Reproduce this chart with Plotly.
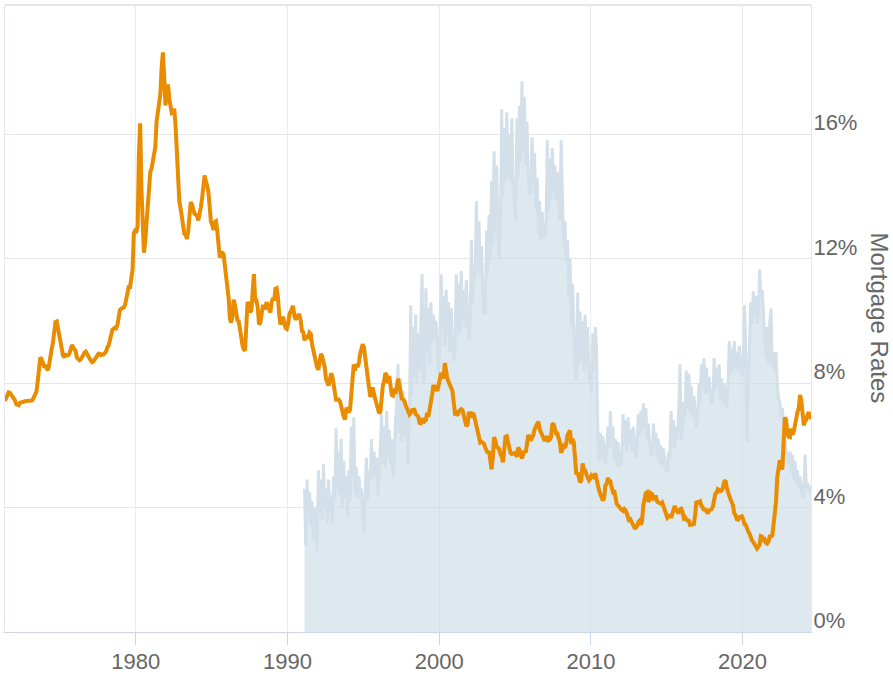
import pandas as pd
import plotly.graph_objects as go

# 30-year fixed mortgage rate (%), monthly, May 1971 - Jul 2024
rates_1970s = [
    7.43, 7.53, 7.60, 7.70, 7.69, 7.63, 7.55, 7.48,
    7.44, 7.32, 7.29, 7.29, 7.37, 7.37, 7.40, 7.40, 7.42, 7.42, 7.43, 7.44,
    7.44, 7.44, 7.46, 7.54, 7.65, 7.73, 8.05, 8.50, 8.82, 8.77, 8.58, 8.54,
    8.54, 8.46, 8.41, 8.58, 8.97, 9.09, 9.28, 9.59, 9.96, 9.98, 9.79, 9.62,
    9.43, 9.10, 8.89, 8.82, 8.91, 8.89, 8.89, 8.94, 9.13, 9.22, 9.15, 9.10,
    9.02, 8.81, 8.76, 8.73, 8.76, 8.85, 8.93, 8.98, 9.01, 8.91, 8.81, 8.79,
    8.72, 8.67, 8.69, 8.75, 8.82, 8.86, 8.94, 8.94, 8.90, 8.92, 8.92, 8.96,
    9.01, 9.15, 9.20, 9.36, 9.57, 9.71, 9.74, 9.78, 9.76, 9.86, 10.11, 10.35,
    10.39, 10.41, 10.43, 10.50, 10.69, 11.04, 11.09, 11.09, 11.30, 11.64, 12.83, 12.90,
]
rates_1980s = [
    12.88, 13.04, 15.28, 16.35, 14.26, 12.71, 12.19, 12.56, 13.20, 13.79, 14.21, 14.79,
    14.90, 15.13, 15.40, 15.58, 16.40, 16.70, 16.83, 17.29, 18.16, 18.63, 17.83, 16.92,
    17.40, 17.60, 17.16, 16.89, 16.68, 16.70, 16.82, 16.27, 15.43, 14.61, 13.83, 13.62,
    13.25, 13.04, 12.80, 12.78, 12.63, 12.87, 13.42, 13.81, 13.73, 13.54, 13.44, 13.42,
    13.37, 13.23, 13.39, 13.65, 13.94, 14.42, 14.67, 14.47, 14.35, 14.13, 13.64, 13.18,
    13.08, 12.92, 13.17, 13.20, 12.91, 12.22, 12.03, 12.19, 12.19, 12.14, 11.78, 11.26,
    10.88, 10.71, 10.08, 9.94, 10.14, 10.68, 10.51, 10.20, 10.01, 9.98, 9.70, 9.32,
    9.20, 9.08, 9.04, 9.83, 10.60, 10.54, 10.28, 10.33, 10.89, 11.50, 10.65, 10.65,
    10.43, 9.89, 9.93, 10.20, 10.46, 10.46, 10.43, 10.60, 10.48, 10.30, 10.27, 10.61,
    10.73, 10.65, 11.03, 11.05, 10.77, 10.20, 9.88, 9.99, 10.13, 9.95, 9.77, 9.74,
]
rates_1990s = [
    9.90, 10.20, 10.27, 10.37, 10.48, 10.16, 10.04, 10.10, 10.18, 10.18, 10.01, 9.67,
    9.64, 9.37, 9.50, 9.49, 9.47, 9.62, 9.58, 9.24, 9.01, 8.86, 8.71, 8.50,
    8.43, 8.76, 8.94, 8.85, 8.67, 8.51, 8.13, 7.98, 7.92, 8.09, 8.31, 8.22,
    7.92, 7.71, 7.46, 7.46, 7.47, 7.42, 7.21, 7.11, 6.92, 6.83, 7.16, 7.17,
    7.06, 7.15, 7.68, 8.32, 8.60, 8.40, 8.61, 8.51, 8.64, 8.93, 9.17, 9.25,
    9.15, 8.83, 8.46, 8.32, 7.96, 7.57, 7.61, 7.86, 7.64, 7.48, 7.38, 7.20,
    7.03, 7.08, 7.62, 7.93, 8.07, 8.32, 8.25, 8.00, 8.23, 7.92, 7.62, 7.60,
    7.82, 7.65, 7.90, 8.14, 7.94, 7.69, 7.50, 7.48, 7.43, 7.29, 7.21, 7.10,
    6.99, 7.04, 7.13, 7.14, 7.14, 7.00, 6.95, 6.92, 6.72, 6.71, 6.87, 6.72,
    6.79, 6.81, 7.04, 6.92, 7.15, 7.55, 7.63, 7.94, 7.82, 7.85, 7.74, 7.91,
]
rates_2000s = [
    8.21, 8.33, 8.24, 8.15, 8.64, 8.29, 8.15, 8.03, 7.91, 7.80, 7.75, 7.38,
    7.03, 7.05, 6.95, 7.08, 7.15, 7.16, 7.13, 6.95, 6.82, 6.62, 6.66, 7.07,
    7.00, 6.89, 7.01, 6.99, 6.81, 6.65, 6.49, 6.29, 6.09, 6.11, 6.07, 6.05,
    5.92, 5.84, 5.75, 5.81, 5.48, 5.23, 5.63, 6.26, 6.15, 5.95, 5.93, 5.88,
    5.71, 5.64, 5.45, 5.83, 6.27, 6.29, 6.06, 5.87, 5.75, 5.72, 5.73, 5.75,
    5.71, 5.63, 5.93, 5.86, 5.72, 5.58, 5.70, 5.82, 5.77, 6.07, 6.33, 6.27,
    6.15, 6.25, 6.32, 6.51, 6.60, 6.68, 6.76, 6.52, 6.40, 6.36, 6.24, 6.14,
    6.22, 6.29, 6.16, 6.18, 6.26, 6.66, 6.70, 6.57, 6.38, 6.38, 6.21, 6.10,
    5.76, 5.92, 5.97, 5.92, 6.04, 6.32, 6.43, 6.48, 6.04, 6.20, 6.09, 5.33,
    5.06, 5.13, 5.00, 4.81, 4.86, 5.42, 5.22, 5.19, 5.06, 4.95, 4.88, 4.93,
]
rates_2010s = [
    5.03, 4.99, 4.97, 5.10, 4.89, 4.74, 4.56, 4.43, 4.35, 4.23, 4.30, 4.71,
    4.76, 4.95, 4.84, 4.84, 4.64, 4.51, 4.55, 4.27, 4.11, 4.07, 3.99, 3.96,
    3.92, 3.89, 3.95, 3.91, 3.80, 3.68, 3.55, 3.60, 3.50, 3.38, 3.35, 3.35,
    3.41, 3.53, 3.57, 3.45, 3.54, 4.07, 4.37, 4.46, 4.49, 4.19, 4.26, 4.46,
    4.43, 4.30, 4.34, 4.34, 4.19, 4.16, 4.13, 4.12, 4.16, 4.04, 4.00, 3.86,
    3.67, 3.71, 3.77, 3.67, 3.84, 3.98, 4.05, 3.91, 3.89, 3.80, 3.94, 3.96,
    3.87, 3.66, 3.69, 3.61, 3.60, 3.57, 3.44, 3.44, 3.46, 3.47, 3.77, 4.20,
    4.15, 4.17, 4.20, 4.05, 4.01, 3.90, 3.97, 3.88, 3.81, 3.90, 3.92, 3.95,
    4.03, 4.33, 4.44, 4.47, 4.59, 4.57, 4.53, 4.55, 4.63, 4.83, 4.87, 4.64,
    4.46, 4.37, 4.27, 4.14, 4.07, 3.80, 3.77, 3.62, 3.61, 3.69, 3.70, 3.72,
]
rates_2020s = [
    3.62, 3.47, 3.45, 3.31, 3.23, 3.16, 3.02, 2.94, 2.89, 2.83, 2.77, 2.68,
    2.74, 2.81, 3.08, 3.06, 2.96, 2.98, 2.87, 2.84, 2.90, 3.07, 3.07, 3.10,
    3.45, 3.76, 4.17, 4.98, 5.23, 5.52, 5.41, 5.22, 6.11, 6.90, 6.81, 6.36,
    6.27, 6.26, 6.54, 6.34, 6.43, 6.71, 6.84, 7.07, 7.20, 7.62, 7.44, 6.82,
    6.64, 6.78, 6.82, 6.99, 7.06, 6.92, 6.85,
]

# Purchase application activity (scaled to the chart), monthly, Feb 1991 - Jul 2024
purchase_1990s = [
    4.6, 2.8, 4.9, 3.8, 4.5, 3.4, 4.2, 3.0, 4.0, 3.3, 2.6,
    5.2, 3.8, 4.9, 3.6, 5.4, 4.0, 4.6, 3.5, 4.9, 3.9, 4.4, 3.5,
    5.0, 4.2, 6.55, 4.6, 5.8, 4.4, 6.2, 4.0, 5.5, 4.3, 5.0, 3.7,
    5.2, 4.2, 6.6, 5.0, 6.9, 4.4, 5.3, 4.3, 5.0, 4.5, 4.6, 3.8,
    3.15, 4.6, 5.6, 4.2, 5.2, 4.9, 6.2, 5.0, 5.8, 5.0, 5.6, 4.4,
    5.0, 6.0, 7.0, 5.4, 6.6, 5.3, 7.1, 5.6, 6.5, 5.4, 6.2, 5.0,
    5.5, 6.8, 7.4, 8.6, 6.4, 8.15, 6.1, 7.75, 6.3, 7.4, 6.1, 5.4,
    6.9, 10.5, 7.6, 9.8, 8.2, 10.2, 8.0, 9.6, 8.4, 10.0, 11.5, 8.0,
    8.2, 11.05, 9.0, 10.4, 8.6, 10.6, 9.3, 10.2, 9.4, 10.0, 9.2, 8.3,
]
purchase_2000s = [
    9.35, 11.5, 9.8, 10.8, 9.2, 11.0, 9.6, 10.6, 9.0, 10.4, 9.3, 8.7,
    9.0, 11.5, 9.7, 11.2, 9.6, 11.6, 10.0, 11.0, 9.8, 11.3, 10.2, 9.4,
    9.8, 12.6, 10.5, 11.8, 11.4, 13.85, 11.6, 13.2, 11.5, 12.4, 11.0, 10.3,
    10.2, 12.9, 11.5, 13.4, 12.0, 14.5, 12.4, 15.45, 12.8, 15.0, 13.0, 12.0,
    13.2, 16.8, 14.0, 16.2, 14.5, 16.7, 14.6, 16.0, 14.5, 16.5, 14.2, 13.5,
    13.2, 16.5, 14.6, 16.9, 15.1, 17.7, 15.4, 17.2, 15.0, 16.4, 14.6, 14.1,
    14.1, 15.9, 14.3, 15.4, 13.6, 14.6, 12.8, 13.85, 12.6, 13.5, 12.8, 12.7,
    13.0, 15.8, 13.5, 15.2, 13.9, 15.55, 14.2, 15.0, 13.85, 14.8, 14.0, 13.2,
    15.8, 13.5, 12.4, 13.2, 11.9, 12.6, 10.8, 12.0, 9.8, 11.2, 9.4, 8.4,
    8.1, 10.9, 8.6, 10.3, 8.8, 10.0, 8.4, 10.2, 8.6, 9.8, 8.3, 7.9,
]
purchase_2010s = [
    7.7, 9.6, 8.4, 9.8, 9.2, 6.5, 5.5, 6.4, 5.6, 6.3, 5.8, 5.4,
    5.8, 6.6, 5.9, 7.1, 6.0, 6.6, 5.5, 6.2, 5.3, 6.1, 5.6, 5.3,
    5.6, 7.0, 6.0, 6.8, 5.8, 6.9, 6.0, 6.5, 5.8, 6.6, 6.1, 5.6,
    6.0, 7.0, 6.3, 7.1, 6.4, 7.35, 6.6, 7.2, 6.2, 6.7, 6.0, 5.7,
    5.7, 6.7, 5.9, 6.4, 5.6, 6.2, 5.4, 6.0, 5.3, 5.9, 5.5, 5.2,
    5.2, 5.8, 5.6, 7.1, 6.0, 6.8, 5.9, 6.6, 6.2, 7.0, 8.6, 6.2,
    6.6, 7.4, 6.9, 8.4, 7.2, 8.3, 7.0, 7.9, 6.9, 7.6, 7.0, 6.55,
    7.0, 8.0, 7.4, 8.6, 7.8, 8.8, 7.65, 8.5, 7.7, 8.2, 7.6, 7.3,
    7.5, 8.8, 7.8, 8.5, 7.9, 8.6, 7.5, 8.15, 7.3, 8.0, 7.6, 7.2,
    8.0, 9.35, 8.3, 9.1, 8.4, 9.35, 8.5, 9.0, 8.4, 9.2, 8.6, 8.2,
]
purchase_2020s = [
    8.7, 10.5, 9.2, 6.1, 7.8, 9.8, 10.6, 9.9, 10.95, 10.2, 10.8, 9.9,
    10.3, 11.65, 10.8, 11.0, 10.1, 9.2, 8.8, 9.8, 8.6, 9.9, 10.4, 8.5,
    9.0, 8.4, 9.0, 8.0, 7.5, 7.4, 6.9, 7.2, 6.55, 6.2, 5.8, 5.6,
    5.4, 5.8, 5.1, 5.7, 4.9, 5.5, 4.8, 5.2, 4.6, 5.0, 4.5, 4.3,
    4.4, 5.7, 4.6, 4.8, 4.5, 4.7, 4.4,
]

year_ticks = [1980, 1990, 2000, 2010, 2020]
rate_ticks = [0, 4, 8, 12, 16]

rates = rates_1970s + rates_1980s + rates_1990s + rates_2000s + rates_2010s + rates_2020s
purchase = purchase_1990s + purchase_2000s + purchase_2010s + purchase_2020s

rate_dates = pd.date_range("1971-05-01", periods=len(rates), freq="MS") + pd.Timedelta(days=14)
purchase_dates = pd.date_range("1991-02-01", periods=len(purchase), freq="MS") + pd.Timedelta(days=14)

FONT = "Liberation Sans, Arial, sans-serif"
GRAY = "#666666"
YMAX = 20.15

fig = go.Figure()
fig.add_trace(go.Scatter(
    x=purchase_dates, y=purchase, mode="lines", name="Purchase Applications",
    line=dict(color="rgb(211,224,233)", width=3),
    fill="tozeroy", fillcolor="rgba(200,216,229,0.6)",
    yaxis="y", hoverinfo="skip",
))
fig.add_trace(go.Scatter(
    x=rate_dates, y=rates, mode="lines", name="Mortgage Rates",
    line=dict(color="#EA8C00", width=4),
    yaxis="y2",
))

fig.update_layout(
    width=893, height=676,
    margin=dict(l=5, r=82, t=5, b=44, autoexpand=False),
    paper_bgcolor="white", plot_bgcolor="white",
    showlegend=False,
    font=dict(family=FONT, color=GRAY),
    xaxis=dict(
        type="date", automargin=False,
        range=["1971-05-19", "2024-07-05"],
        tickvals=[f"{y}-01-01" for y in year_ticks],
        ticktext=[str(y) for y in year_ticks],
        showgrid=True, gridcolor="#ececec", gridwidth=1,
        showline=True, linecolor="#ccd6eb", linewidth=1,
        ticks="outside", ticklen=12, tickcolor="#ccd6eb",
        ticklabelstandoff=-2,
        tickfont=dict(size=22, color=GRAY, family=FONT),
        zeroline=False,
    ),
    yaxis=dict(
        range=[0, YMAX], side="left", automargin=False,
        tickvals=rate_ticks, showticklabels=False,
        showgrid=True, gridcolor="#e6e6e6", gridwidth=1,
        showline=True, linecolor="#e3e8f2", zeroline=False, ticks="",
    ),
    yaxis2=dict(
        range=[0, YMAX], side="right", overlaying="y", automargin=False,
        tickvals=rate_ticks, ticktext=[f"{v}%" for v in rate_ticks],
        showgrid=False, zeroline=False, ticks="",
        showline=True, linecolor="#e3e8f2",
        ticklabelposition="outside top",
        ticklabelstandoff=-3,
        ticklabelshift=4,
        tickfont=dict(size=22, color=GRAY, family=FONT),
    ),
    shapes=[dict(type="line", xref="paper", yref="paper", x0=0, x1=1, y0=1, y1=1,
                 line=dict(color="#e6e6e6", width=2))],
    annotations=[dict(
        text="Mortgage Rates", xref="paper", yref="paper",
        x=1.0856, y=0.5, xanchor="center", yanchor="middle",
        textangle=90, showarrow=False,
        font=dict(size=24, color=GRAY, family=FONT),
    )],
)

fig.write_html("out.html", config={"displayModeBar": False},
               post_script="document.body.style.margin='0';")
